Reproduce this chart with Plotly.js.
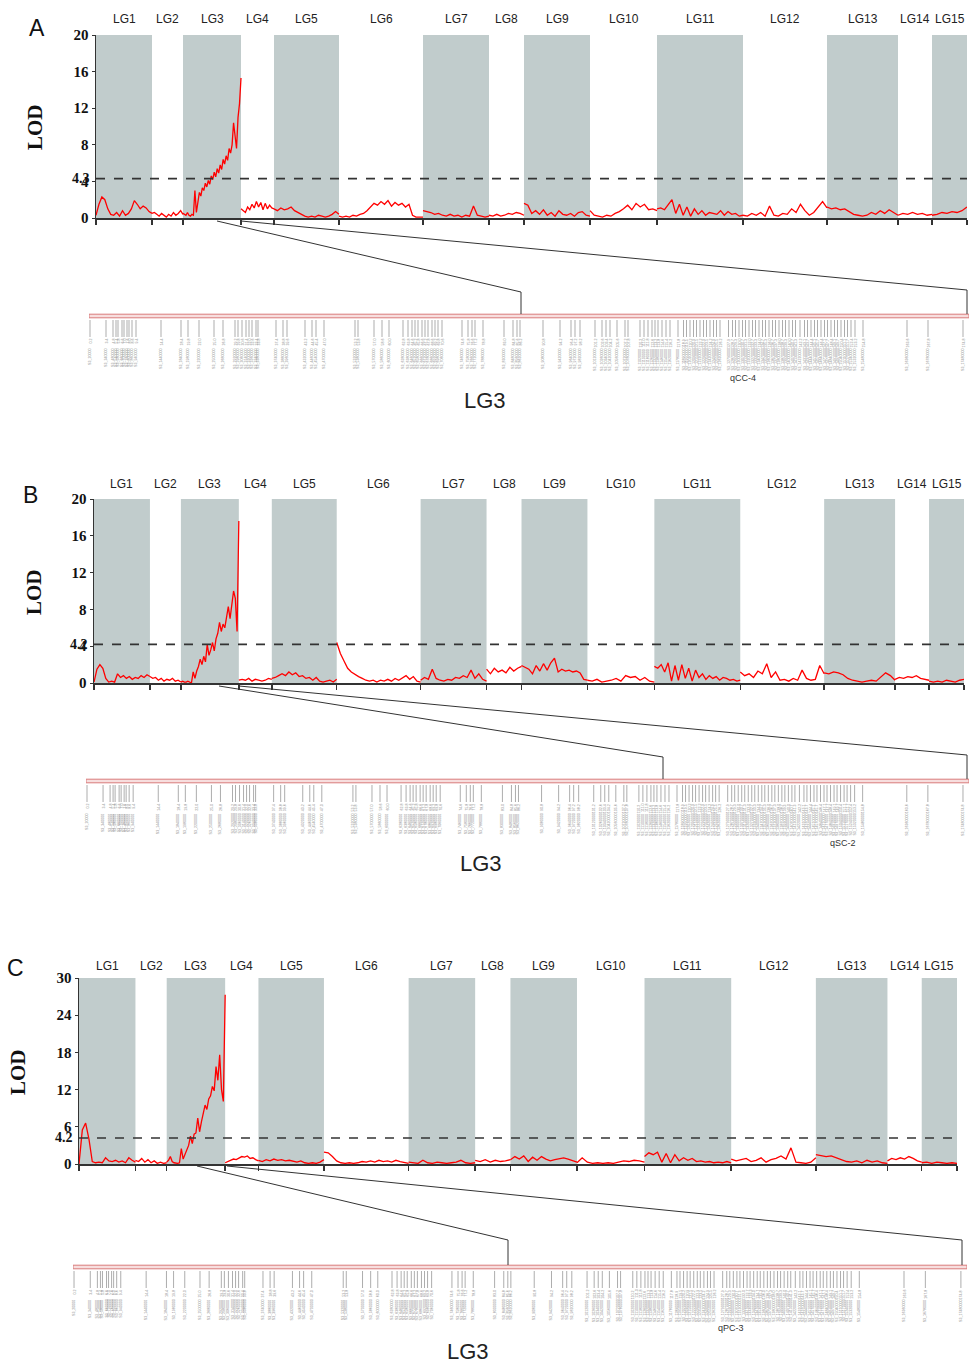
<!DOCTYPE html>
<html><head><meta charset="utf-8">
<script src="https://cdn.plot.ly/plotly-3.0.1.min.js"></script>
<style>html,body{margin:0;padding:0;background:#fff}#chart{width:969px;height:1363px}</style>
</head><body><div id="chart"></div>
<script>
// ---------------- DATA ----------------
const LG_NAMES = ['LG1','LG2','LG3','LG4','LG5','LG6','LG7','LG8','LG9','LG10','LG11','LG12','LG13','LG14','LG15'];
const LG_LEN = [56,31,58,33,65,84,66,35,66,67,86,84,71,34,35];

// Panel A (qCC-4) LOD values along each linkage group
const lodA = [
 [0.3,1.5,2.3,2.0,1.0,0.4,0.3,0.6,0.2,0.8,0.3,0.5,1.0,1.9,1.5,1.0,1.3,1.1,0.7,0.5],
 [0.5,0.6,0.4,0.2,0.5,0.3,0.1,0.4,0.2,0.6,0.3,0.5,0.8,0.4],
 [0.5,0.4,0.3,0.6,0.3,0.2,0.4,0.3,3.0,0.6,1.5,2.8,2.4,3.3,3.0,3.8,3.4,4.1,3.7,4.6,4.2,5.0,4.5,5.4,4.9,5.8,5.3,6.4,5.9,6.8,6.3,7.6,7.1,8.0,10.4,9.0,7.6,11.0,12.5,15.3],
 [1.0,0.8,0.6,1.2,0.9,1.5,1.1,1.8,1.2,1.7,0.9,1.6,1.0,1.4,1.1,1.0],
 [1.0,0.8,1.1,0.9,1.0,1.2,0.8,0.6,0.4,0.2,0.1,0.2,0.1,0.3,0.2,0.1,0.2,0.4,0.7,0.4],
 [0.2,0.1,0.2,0.1,0.3,0.2,0.4,0.5,0.8,1.2,1.6,1.4,1.8,1.5,1.9,1.3,1.7,1.4,1.6,1.2,1.5,0.3,0.1,0.1,0.1],
 [0.8,0.7,0.6,0.4,0.5,0.3,0.2,0.4,0.2,0.3,0.1,0.3,0.2,1.3,0.3,0.2,0.1,0.2],
 [0.3,0.2,0.4,0.2,0.3,0.5,0.4,0.6,0.5,0.3],
 [1.6,1.4,0.5,0.8,0.4,0.9,0.3,0.6,0.2,0.8,0.4,0.3,0.5,0.2,0.6,0.7,0.3,0.2],
 [0.8,0.3,0.2,0.1,0.3,0.2,0.5,0.7,1.0,1.4,0.9,1.6,1.2,1.5,0.9,1.0,0.8],
 [1.0,1.1,0.9,1.4,2.0,0.5,1.5,0.3,1.2,0.2,1.0,0.4,0.8,0.3,0.6,0.5,0.4,0.8,0.3,0.7,0.4,0.5,0.2,0.3],
 [0.3,0.2,0.5,0.3,0.6,0.2,1.3,0.3,0.2,0.5,0.4,1.0,0.6,1.5,0.8,0.3,0.6,1.2,1.8,1.1],
 [1.2,1.0,1.1,0.9,1.0,0.7,0.4,0.3,0.2,0.3,0.6,0.4,0.8,0.5,0.9,0.6,0.3],
 [0.3,0.5,0.4,0.6,0.4,0.5,0.3,0.4],
 [0.3,0.4,0.6,0.5,0.7,0.6,0.8,1.2]
];
// Panel B (qSC-2)
const lodB = [
 [0.1,1.5,2.0,1.6,0.5,0.1,0.2,0.1,1.0,0.6,0.8,0.5,0.7,0.4,0.6,0.5,0.8,0.6,0.9,0.7],
 [0.7,0.5,0.6,0.3,0.5,0.2,0.4,0.3,0.5,0.2,0.3,0.1],
 [0.1,0.2,0.1,0.1,0.2,0.1,0.0,1.2,0.5,1.3,1.8,2.6,2.0,2.9,2.3,4.2,3.0,3.6,4.4,3.5,4.8,5.4,6.6,5.6,6.4,6.0,7.2,8.3,7.0,8.6,10.0,9.2,5.6,17.6],
 [0.3,0.4,0.3,0.5,0.2,0.4,0.3,0.2,0.3,0.5,0.4],
 [0.5,0.6,0.8,1.0,0.8,1.2,0.9,1.1,0.7,0.8,0.5,0.6,0.3,0.6,0.2,0.1,0.2,0.3,0.1,0.4],
 [4.4,3.2,2.4,1.6,1.2,0.9,0.7,0.5,0.3,0.2,0.3,0.1,0.3,0.2,0.4,0.2,0.5,0.3,0.6,0.8,0.4,0.7,0.2,0.1],
 [0.3,0.6,0.4,1.5,0.5,0.3,0.2,0.4,0.3,0.6,0.5,0.8,0.6,1.4,0.5,1.0,0.4,0.2],
 [1.5,1.0,1.6,1.2,1.4,1.1,1.7,1.3,1.6,1.8],
 [1.9,1.7,1.5,1.0,1.9,1.3,2.1,1.4,2.2,2.7,1.2,1.5,1.3,1.4,1.2,1.3,1.1,0.4,0.3],
 [0.3,0.2,0.4,0.1,0.2,0.3,0.5,0.2,0.8,0.6,0.7,0.3,0.6,0.2,0.1],
 [1.8,1.6,2.0,1.2,2.2,0.2,1.9,0.3,2.0,0.5,1.6,0.2,1.4,0.6,1.0,0.4,0.8,0.5,0.7,0.3,0.6,0.5,0.3,0.4,0.2,0.3],
 [1.2,0.8,1.0,0.6,1.3,1.0,2.1,0.6,1.2,0.3,0.4,0.2,0.5,0.3,1.4,0.5,0.3,0.4,1.9,1.0],
 [1.1,1.0,1.2,1.1,0.9,0.5,0.3,0.2,0.1,0.2,0.3,0.2,0.7,1.1,0.8,0.3],
 [0.4,0.6,0.5,0.7,0.6,0.8,0.5,0.4,0.3],
 [0.2,0.1,0.2,0.1,0.3,0.2,0.1,0.3,0.4]
];
// Panel C (qPC-3)
const lodC = [
 [0.0,5.5,6.6,4.0,0.4,0.2,0.3,0.2,1.0,0.5,0.4,0.6,0.3,0.5,0.2,1.0,0.6,0.3],
 [0.6,0.4,0.9,0.3,0.7,0.2,0.5,0.1,0.3,0.1,0.2],
 [0.3,0.6,1.2,0.4,0.2,0.1,0.1,0.2,2.5,0.8,1.6,2.3,3.0,4.5,3.3,4.8,5.0,7.4,5.2,6.8,8.0,9.5,8.8,10.5,11.0,12.5,11.8,15.7,13.5,17.6,12.0,10.1,27.3],
 [0.2,0.4,0.6,0.8,0.7,1.0,1.2,1.1,1.3,0.9,1.0,0.7,0.5],
 [0.6,0.4,0.7,0.5,0.8,0.6,0.7,0.5,0.6,0.4,0.3,0.5,0.2,0.1,0.2,0.1,0.3,0.7],
 [1.9,1.8,1.2,0.5,0.2,0.1,0.2,0.1,0.2,0.4,0.3,0.5,0.3,0.6,0.4,0.5,0.3,0.6,0.4,0.2,0.1],
 [0.3,0.2,0.1,0.6,0.2,0.1,0.3,0.2,0.1,0.2,0.3,0.6,0.2,0.1,0.2],
 [0.6,0.4,0.7,0.3,0.6,0.4,0.5,0.7],
 [0.7,1.2,0.8,1.3,0.4,1.1,0.6,1.2,0.8,0.5,0.7,0.9,1.0,0.8,0.6,0.3],
 [0.2,1.0,0.3,0.1,0.2,0.1,0.2,0.1,0.3,0.5,0.4,0.6,0.5,0.3],
 [1.2,1.8,1.5,1.9,0.3,1.7,0.2,1.5,0.5,1.0,0.6,0.9,0.4,0.5,0.3,0.4,0.2,0.3,0.2,0.4,0.2],
 [0.8,0.5,0.7,0.9,0.4,0.6,1.0,0.3,0.7,0.9,1.3,0.8,2.6,0.3,0.2,0.1,0.3,1.0],
 [1.5,1.3,1.2,1.3,1.0,0.6,0.4,0.3,0.5,0.2,0.6,0.3,0.5,0.2,0.1],
 [0.5,0.9,0.7,1.0,0.8,1.2,0.9,0.5,0.3],
 [0.2,0.3,0.1,0.3,0.2,0.1,0.2,0.1]
];
const THRESHOLDS = [4.3, 4.2, 4.2];
const THRESH_LABELS = ['4.3', '4.2', '4.2'];
const Y_MAX = [20, 20, 30];
const Y_TICKS = [[0,4,8,12,16,20],[0,4,8,12,16,20],[0,6,12,18,24,30]];
const PANEL_LETTERS = ['A','B','C'];
const QTL_NAMES = ['qCC-4','qSC-2','qPC-3'];
const MAP_NAME = 'LG3';
const MAP_LEN = 176;
// LG3 marker positions (cM) on the expanded linkage map
const MAP_POS = [0.2,3.4,4.8,5.4,5.8,6.6,7.0,7.6,8.0,8.6,9.4,14.4,18.4,19.8,22.0,25.0,26.8,29.2,29.8,30.6,31.4,32.0,32.6,33.4,33.8,
 37.4,38.8,39.6,43.2,44.6,45.4,47.0,53.2,53.8,57.0,58.6,60.0,62.8,63.8,64.6,65.2,65.8,66.6,67.2,67.8,68.6,69.2,69.8,70.6,
 74.6,75.8,76.6,77.2,78.8,83.0,84.8,85.6,86.2,90.8,94.2,96.4,97.2,98.2,101.2,102.6,103.4,104.2,105.6,107.2,107.8,
 110.2,111.0,111.8,112.6,113.2,113.8,114.6,115.4,116.2,117.8,118.9,119.5,120.2,120.9,121.5,122.2,122.9,123.5,124.2,124.9,
 125.5,126.2,127.9,128.7,129.3,130.0,130.7,131.3,132.0,132.7,133.3,134.0,134.7,135.3,136.0,136.7,137.3,138.0,138.7,139.3,
 140.0,140.7,141.3,142.2,143.1,143.7,144.4,145.1,145.7,146.4,147.1,147.7,148.4,149.1,149.7,150.4,151.1,151.7,152.4,153.2,
 154.8,163.6,167.8,174.8];

// ---------------- GEOMETRY / STYLE ----------------
const W = 969, H = 1363;
const fx = p => p / W;
const fy = p => 1 - p / H;
const GEO = [
 {x0:96, x1:967, yTop:35,  yBot:218,  letter:[37,28],  lod:[35,127],  lgY:19.5,
  bar:{x0:89,x1:969,y:316},  zoom:[[217,221,521,292],[241,221,967,290]],  qtl:[743,378], map:[485,400]},
 {x0:94, x1:964, yTop:499, yBot:683,  letter:[30,495], lod:[34,592],  lgY:483.5,
  bar:{x0:86,x1:969,y:781},  zoom:[[219,686,663,757],[239,686,967,755]],  qtl:[843,843], map:[481,864]},
 {x0:79, x1:957, yTop:978, yBot:1164, letter:[15,968], lod:[18,1072], lgY:965.5,
  bar:{x0:73,x1:967,y:1267}, zoom:[[197,1166,508,1240],[227,1166,962,1240]], qtl:[731,1328], map:[468,1351]}
];
const SHADE = '#c1cccc';
const SERIF = 'Liberation Serif, Times New Roman, serif';
const SANS = 'Liberation Sans, Arial, sans-serif';

const starts = [];
LG_LEN.reduce((acc, l, k) => { starts[k] = acc; return acc + l; }, 0);
const TOTAL = LG_LEN.reduce((a, b) => a + b, 0);
const bounds = starts.concat([TOTAL]);

const data = [], shapes = [], annotations = [];
const layout = {
  width: W, height: H, margin: {l:0, r:0, t:0, b:0},
  paper_bgcolor: '#fff', plot_bgcolor: 'rgba(0,0,0,0)', showlegend: false
};

[lodA, lodB, lodC].forEach((lod, p) => {
  const g = GEO[p];
  const xs = p === 0 ? 'x' : 'x' + (p + 1), ys = p === 0 ? 'y' : 'y' + (p + 1);
  const xk = p === 0 ? 'xaxis' : 'xaxis' + (p + 1), yk = p === 0 ? 'yaxis' : 'yaxis' + (p + 1);
  const mx = 'x' + (p + 4), my = 'y' + (p + 4);

  layout[xk] = {domain:[fx(g.x0), fx(g.x1)], range:[0, TOTAL], anchor: ys,
    showline:true, linecolor:'#333', linewidth:1.5, ticks:'outside', ticklen:5, tickwidth:1.5, tickcolor:'#333',
    tickmode:'array', tickvals: bounds, showticklabels:false, showgrid:false, zeroline:false, fixedrange:true};
  layout[yk] = {domain:[fy(g.yBot), fy(g.yTop)], range:[0, Y_MAX[p]], anchor: xs,
    showline:true, linecolor:'#333', linewidth:1.5, ticks:'outside', ticklen:3, tickcolor:'#333',
    tickmode:'array', tickvals: Y_TICKS[p], ticktext: Y_TICKS[p].map(v => '<b>' + v + '</b>'),
    tickfont:{family:SERIF, size:15, color:'#111'},
    showgrid:false, zeroline:false, fixedrange:true};
  layout['xaxis' + (p + 4)] = {domain:[fx(g.bar.x0), fx(g.bar.x1)], range:[0, MAP_LEN], anchor: my, visible:false, fixedrange:true};
  layout['yaxis' + (p + 4)] = {domain:[fy(g.bar.y + 21), fy(g.bar.y + 4)], range:[0, 1], anchor: mx, visible:false, fixedrange:true};

  // shaded linkage groups
  LG_LEN.forEach((l, k) => {
    if (k % 2 === 0) shapes.push({type:'rect', xref:xs, yref:ys, x0:starts[k], x1:starts[k] + l, y0:0, y1:Y_MAX[p],
      fillcolor:SHADE, line:{width:0}, layer:'below'});
    annotations.push({xref:xs, yref:'paper', x:starts[k] + l / 2, y:fy(g.lgY), text:LG_NAMES[k], showarrow:false,
      xanchor:'center', yanchor:'middle', font:{family:SANS, size:12, color:'#222'}});
  });
  // threshold
  shapes.push({type:'line', xref:xs, yref:ys, x0:0, x1:TOTAL, y0:THRESHOLDS[p], y1:THRESHOLDS[p],
    line:{color:'#333', width:1.6, dash:'dash'}, layer:'above'});
  annotations.push({xref:'paper', yref:ys, x:fx(g.x0 - 4), y:THRESHOLDS[p], text:'<b>' + THRESH_LABELS[p] + '</b>',
    showarrow:false, xanchor:'right', yanchor:'middle', font:{family:SERIF, size:14, color:'#111'}});

  // LOD curve
  const cx = [], cy = [];
  lod.forEach((arr, k) => {
    arr.forEach((v, i) => { cx.push(starts[k] + LG_LEN[k] * i / (arr.length - 1)); cy.push(v); });
    cx.push(null); cy.push(null);
  });
  data.push({type:'scatter', mode:'lines', x:cx, y:cy, xaxis:xs, yaxis:ys, connectgaps:false,
    line:{color:'#ff0000', width:1.3}, hoverinfo:'skip'});

  // map marker ticks
  const tx = [], ty = [];
  MAP_POS.forEach(m => { tx.push(m, m, null); ty.push(0, 1, null); });
  data.push({type:'scatter', mode:'lines', x:tx, y:ty, xaxis:mx, yaxis:my, line:{color:'#8a8a8a', width:0.7}, hoverinfo:'skip'});
  MAP_POS.forEach(m => {
    annotations.push({xref:mx, yref:'paper', x:m, y:fy(g.bar.y + 22), text:m.toFixed(1), textangle:-90, showarrow:false,
      xanchor:'center', yanchor:'top', borderpad:0, font:{family:SANS, size:3.6, color:'#8a8a8a'}});
    annotations.push({xref:mx, yref:'paper', x:m, y:fy(g.bar.y + 32), text:'S3_' + Math.round(m * 100000), textangle:-90, showarrow:false,
      xanchor:'center', yanchor:'top', borderpad:0, font:{family:SANS, size:3.6, color:'#8a8a8a'}});
  });
  // map bar
  shapes.push({type:'rect', xref:mx, yref:'paper', x0:0, x1:MAP_LEN, y0:fy(g.bar.y + 1.8), y1:fy(g.bar.y - 1.8),
    fillcolor:'#f7dede', line:{color:'#d97b7b', width:1}});
  // zoom connector lines
  g.zoom.forEach(z => {
    shapes.push({type:'path', xref:'paper', yref:'paper',
      path:`M ${fx(z[0])},${fy(z[1])} L ${fx(z[2])},${fy(z[3])} L ${fx(z[2])},${fy(g.bar.y - 2)}`,
      line:{color:'#333', width:1}});
  });

  // labels
  annotations.push({xref:'paper', yref:'paper', x:fx(g.letter[0]), y:fy(g.letter[1]), text:PANEL_LETTERS[p], showarrow:false,
    xanchor:'center', yanchor:'middle', font:{family:SANS, size:23, color:'#111'}});
  annotations.push({xref:'paper', yref:'paper', x:fx(g.lod[0]), y:fy(g.lod[1]), text:'<b>LOD</b>', textangle:-90, showarrow:false,
    xanchor:'center', yanchor:'middle', font:{family:SERIF, size:21, color:'#111'}});
  annotations.push({xref:'paper', yref:'paper', x:fx(g.qtl[0]), y:fy(g.qtl[1]), text:QTL_NAMES[p], showarrow:false,
    xanchor:'center', yanchor:'middle', font:{family:SANS, size:9, color:'#333'}});
  annotations.push({xref:'paper', yref:'paper', x:fx(g.map[0]), y:fy(g.map[1]), text:MAP_NAME, showarrow:false,
    xanchor:'center', yanchor:'middle', font:{family:SANS, size:22, color:'#222'}});
});

layout.shapes = shapes;
layout.annotations = annotations;
Plotly.newPlot('chart', data, layout, {staticPlot:true, displayModeBar:false});
</script>
</body></html>
